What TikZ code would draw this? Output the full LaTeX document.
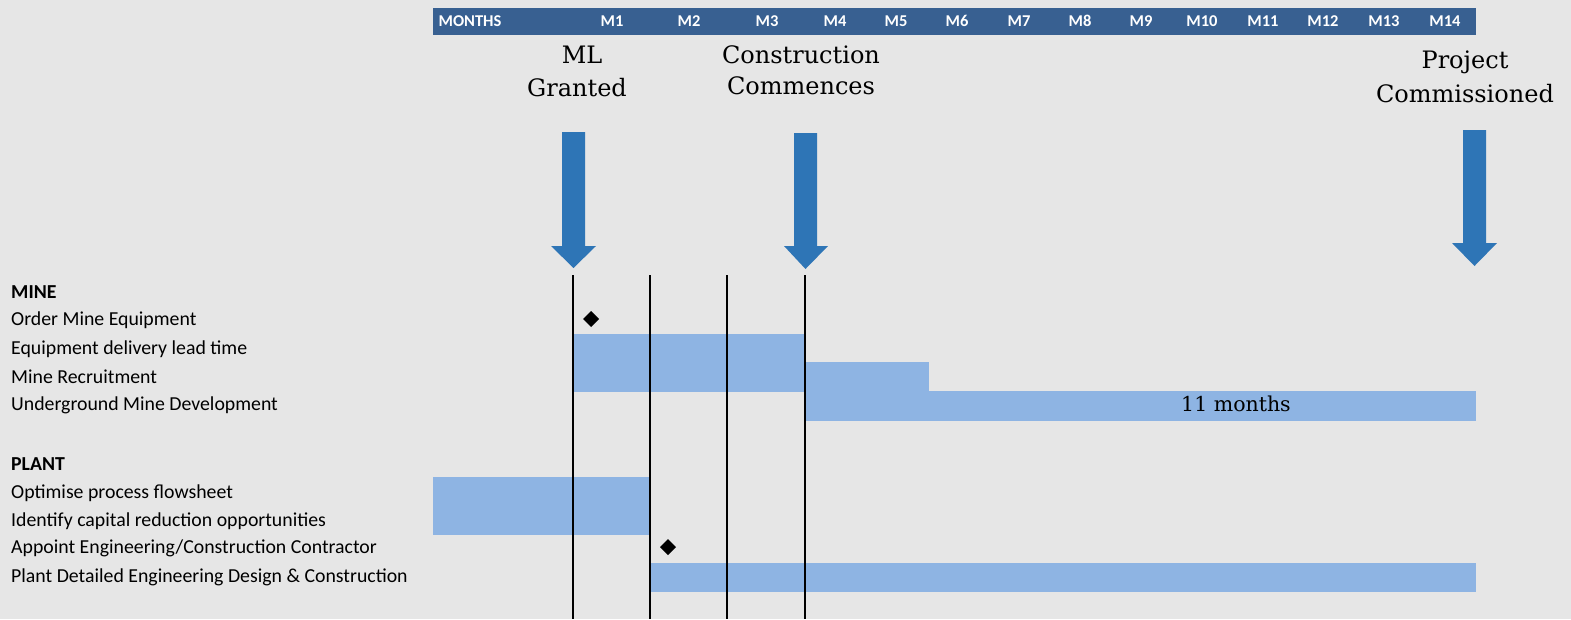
\documentclass[tikz,border=0pt]{standalone}
\usepackage{fontspec}
\setmainfont{Carlito}
\newfontfamily\slabfont{DejaVu Serif}
\definecolor{bgc}{RGB}{230,230,230}
\definecolor{hdr}{RGB}{56,96,145}
\definecolor{arr}{RGB}{46,117,182}
\definecolor{barc}{RGB}{142,180,227}
\tikzset{
  monthlbl/.style={text=white,font=\fontsize{16.5}{16.5}\selectfont\bfseries,inner sep=0pt},
  rowlbl/.style={anchor=west,font=\fontsize{19.8}{19.8}\selectfont,inner sep=0pt},
  grplbl/.style={anchor=west,font=\fontsize{19.8}{19.8}\selectfont\bfseries,inner sep=0pt},
  milelbl/.style={font=\slabfont\fontsize{24}{24}\selectfont,inner sep=0pt,align=center},
  bar/.style={fill=barc,draw=none},
  vline/.style={draw=black,line width=1.6pt},
  bigarrow/.style={fill=arr,draw=none},
  milestone/.style={fill=black,draw=none},
}
\begin{document}
\begin{tikzpicture}[x=1pt,y=-1pt]
\useasboundingbox (0,0) rectangle (1571,619);
\fill[bgc] (0,0) rectangle (1571,619);
% header
\fill[hdr] (433,8) rectangle (1476,35);
\node[monthlbl] (mm) at (470,21) {MONTHS};
\foreach \n/\x in {1/612,2/689,3/767,4/835,5/896,6/957,7/1019,8/1080,9/1141,10/1202,11/1263,12/1323,13/1384,14/1445}
  \node[monthlbl] (m\n) at (\x,21) {M\n};
% milestone labels
\node[milelbl] (ml1) at (582,55) {ML};
\node[milelbl] (ml2) at (577,88) {Granted};
\node[milelbl] (cc1) at (801,55) {Construction};
\node[milelbl] (cc2) at (801,86) {Commences};
\node[milelbl] (pc1) at (1465,62) {Project};
\node[milelbl] (pc2) at (1465,94) {Commissioned};
% big arrows
\fill[bigarrow] (562,132) -- (585,132) -- (585,246) -- (596,246) -- (573.5,268) -- (551,246) -- (562,246) -- cycle;
\fill[bigarrow] (794,133) -- (817,133) -- (817,246) -- (828,246) -- (805.5,269) -- (784,246) -- (794,246) -- cycle;
\fill[bigarrow] (1463,130) -- (1486,130) -- (1486,243) -- (1497,243) -- (1474.5,266) -- (1452,243) -- (1463,243) -- cycle;
% bars
\fill[bar] (573,334) rectangle (805,392);
\fill[bar] (805,362) rectangle (929,421);
\fill[bar] (805,391) rectangle (1476,421);
\node[font=\slabfont\fontsize{20.5}{20.5}\selectfont,inner sep=0pt] (elev) at (1236,404) {11 months};
\fill[bar] (433,477) rectangle (650,535);
\fill[bar] (650,563) rectangle (1476,592);
% vertical lines
\foreach \x in {573,650,727,805}
  \draw[vline] (\x,275) -- (\x,619);
% diamonds
\fill[milestone] (591,311) -- (599,319) -- (591,327) -- (583,319) -- cycle;
\fill[milestone] (668,539) -- (676,547) -- (668,555) -- (660,547) -- cycle;
% row labels
\node[grplbl] (mine) at (11,292) {MINE};
\node[rowlbl] (r1) at (11,320) {Order Mine Equipment};
\node[rowlbl] (r2) at (11,349) {Equipment delivery lead time};
\node[rowlbl] (r3) at (11,377) {Mine Recruitment};
\node[rowlbl] (r4) at (11,405) {Underground Mine Development};
\node[grplbl] (plant) at (11,464) {PLANT};
\node[rowlbl] (r5) at (11,493) {Optimise process flowsheet};
\node[rowlbl] (r6) at (11,521) {Identify capital reduction opportunities};
\node[rowlbl] (r7) at (11,548) {Appoint Engineering/Construction Contractor};
\node[rowlbl] (r8) at (11,577) {Plant Detailed Engineering Design \& Construction};
\end{tikzpicture}
\end{document}
